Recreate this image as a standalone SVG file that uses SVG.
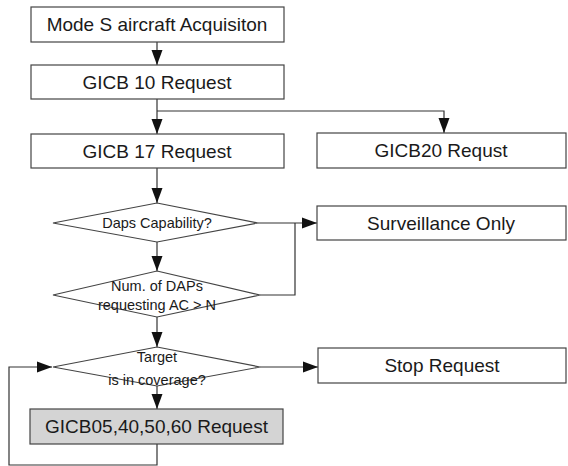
<svg xmlns="http://www.w3.org/2000/svg" width="568" height="466" viewBox="0 0 568 466">
<style>
.box{fill:#fff;stroke:#444;stroke-width:1.2}
.gray{fill:#d4d4d4}
.t{font-family:"Liberation Sans",Arial,sans-serif;font-size:19px;fill:#1a1a1a;text-anchor:middle;dominant-baseline:central}
.s{font-size:14.5px}
.c{fill:none;stroke:#333;stroke-width:1.2}
</style>
<defs>
<marker id="ah" markerUnits="userSpaceOnUse" markerWidth="16" markerHeight="12" refX="15" refY="6" orient="auto">
<path d="M0,0.5 L15,6 L0,11.5 Z" fill="#111"/>
</marker>
</defs>
<rect width="568" height="466" fill="#fff"/>
<g id="connectors">
<path class="c" d="M157,42 V65" marker-end="url(#ah)"/>
<path class="c" d="M157,99 V134" marker-end="url(#ah)"/>
<path class="c" d="M157,111 H444 V133" marker-end="url(#ah)"/>
<path class="c" d="M157,168 V203" marker-end="url(#ah)"/>
<path class="c" d="M258,223 H317" marker-end="url(#ah)"/>
<path class="c" d="M157,242 V271" marker-end="url(#ah)"/>
<path class="c" d="M260,295 H295 V223"/>
<path class="c" d="M157,317 V347" marker-end="url(#ah)"/>
<path class="c" d="M260,367 H318" marker-end="url(#ah)"/>
<path class="c" d="M157,386 V409" marker-end="url(#ah)"/>
<path class="c" d="M157,444 V465 H9 V367 H52" marker-end="url(#ah)"/>
</g>
<g id="n1"><rect class="box" x="31" y="7" width="253" height="35"/><text class="t" x="157" y="24.5">Mode S aircraft Acquisiton</text></g>
<g id="n2"><rect class="box" x="31" y="65" width="253" height="34"/><text class="t" x="157" y="82">GICB 10 Request</text></g>
<g id="n3"><rect class="box" x="31" y="134" width="253" height="34"/><text class="t" x="157" y="151">GICB 17 Request</text></g>
<g id="n4"><rect class="box" x="317" y="133" width="249" height="35"/><text class="t" x="441" y="150.5">GICB20 Requst</text></g>
<g id="n5"><polygon class="box" points="157,203 258,223 157,242 53,223"/><text class="t s" x="157" y="223">Daps Capability?</text></g>
<g id="n6"><rect class="box" x="317" y="206" width="249" height="34"/><text class="t" x="441" y="223">Surveillance Only</text></g>
<g id="n7"><polygon class="box" points="157,271 260,295 157,317 53,295"/><text class="t s" x="157" y="286">Num. of DAPs</text><text class="t s" x="157" y="305">requesting AC &gt; N</text></g>
<g id="n8"><polygon class="box" points="157,347 260,367 157,386 53,367"/><text class="t s" x="157" y="357">Target</text><text class="t s" x="157" y="380">is in coverage?</text></g>
<g id="n9"><rect class="box" x="318" y="348" width="248" height="35"/><text class="t" x="442" y="365.5">Stop Request</text></g>
<g id="n10"><rect class="box gray" x="30" y="409" width="253" height="35"/><text class="t" x="156.5" y="426.5">GICB05,40,50,60 Request</text></g>
</svg>
